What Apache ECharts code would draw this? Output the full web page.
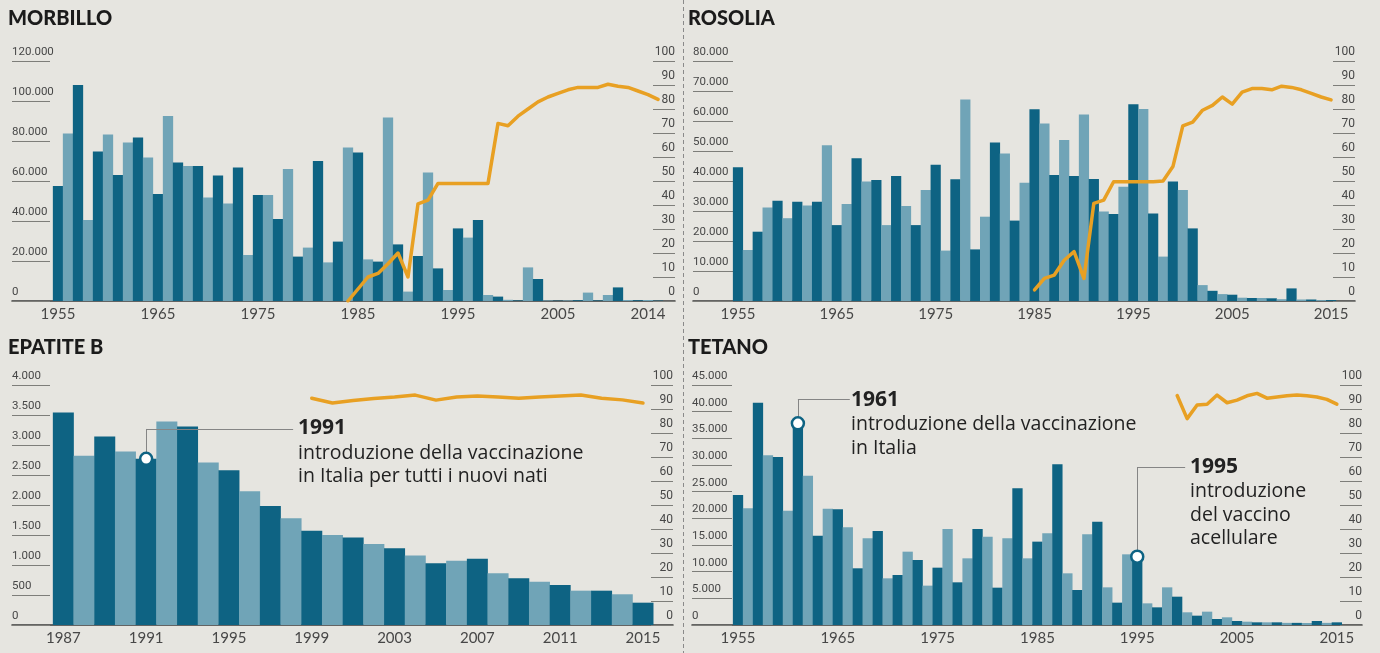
<!DOCTYPE html>
<html>
<head>
<meta charset="utf-8">
<script src="https://cdn.jsdelivr.net/npm/echarts@6/dist/echarts.min.js"></script>
<style>
  html, body { margin: 0; padding: 0; background: #e6e5e0; }
  #chart { width: 1380px; height: 653px; }
</style>
</head>
<body>
<div id="chart"></div>
<script>
// casi notificati per anno (barre) e copertura vaccinale % (linea arancione)
const morbilloStart = 1955;
const morbilloCasi = [57500, 83800, 108000, 40500, 74700, 83300, 63000, 79200, 81700, 71700,
  53500, 92500, 69300, 67500, 67500, 51800, 62700, 48800, 66800, 23000,
  53000, 53000, 41000, 66000, 22200, 26700, 70000, 19300, 29700, 76700,
  74300, 20800, 19700, 91800, 28300, 4700, 22500, 64200, 16300, 5500,
  36300, 31700, 40500, 3000, 2200, 600, 300, 16800, 11000, 300,
  200, 300, 400, 4200, 300, 3000, 6800, 500, 400, 500, 200];
const morbilloCopStart = 1984;
const morbilloCopertura = [0, 5, 10, 11.5, 15.5, 20, 10, 40.5, 42, 49, 49, 49, 49, 49, 49,
  74, 73, 77, 80, 83, 85, 86.5, 88, 89, 89, 89, 90.3, 89.5, 89, 87.5, 86, 84];
const morbilloTicks = [1955, 1965, 1975, 1985, 1995, 2005, 2014];

const rosoliaStart = 1955;
const rosoliaCasi = [44600, 17000, 23100, 31200, 33400, 27600, 33100, 31800, 33100, 51900,
  25300, 32300, 47600, 39800, 40300, 25300, 41700, 31700, 25300, 37000,
  45400, 16800, 40600, 67200, 17200, 28100, 52800, 49200, 26800, 39400,
  63900, 59200, 42000, 53700, 41700, 62200, 40700, 29800, 29000, 38100,
  65600, 64000, 29200, 14800, 39800, 37000, 24200, 5300, 3400, 2300,
  2100, 1100, 1000, 1000, 900, 600, 4200, 500, 500, 300, 300];
const rosoliaCopStart = 1985;
const rosoliaCopertura = [4.6, 9.4, 10.8, 17, 20.6, 9.4, 40.7, 42, 49.7, 49.7, 49.7, 49.7, 49.7,
  50, 56, 73, 74.5, 79.5, 81.5, 85, 82, 87, 88.5, 88.5, 88, 89.5, 89, 88, 86.5, 85, 83.8];
const rosoliaTicks = [1955, 1965, 1975, 1985, 1995, 2005, 2015];

const epatiteStart = 1987;
const epatiteCasi = [3540, 2820, 3140, 2890, 2770, 3390, 3310, 2710, 2580, 2230,
  1985, 1780, 1570, 1500, 1460, 1350, 1280, 1160, 1030, 1070,
  1105, 862, 778, 722, 667, 572, 572, 512, 372];
const epatiteCopStart = 1999;
const epatiteCopertura = [94.5, 92.5, 93.5, 94.4, 95, 95.8, 93.7, 95, 95.4, 95, 94.5,
  95, 95.4, 95.8, 94.5, 93.8, 92.5];
const epatiteTicks = [1987, 1991, 1995, 1999, 2003, 2007, 2011, 2015];

const tetanoStart = 1955;
const tetanoCasi = [24380, 21880, 41690, 31810, 31500, 21440, 37810, 28000, 16750, 21810,
  21690, 18310, 10630, 16250, 17630, 8750, 9380, 13750, 12190, 7380,
  10750, 18000, 8000, 12500, 18000, 16560, 7000, 16250, 25630, 12500,
  15630, 17190, 30130, 9690, 6560, 17000, 19380, 7060, 4190, 13250,
  12810, 4060, 3310, 7060, 5310, 2380, 1750, 2500, 1130, 1440,
  750, 620, 500, 500, 500, 400, 400, 380, 750, 400, 500];
const tetanoCopStart = 1999;
const tetanoCopertura = [95.6, 86, 91.7, 92, 95.8, 92.6, 93.7, 95.5, 96.5, 94.5, 95,
  95.5, 95.8, 95.5, 95, 94, 92];
const tetanoTicks = [1955, 1965, 1975, 1985, 1995, 2005, 2015];

const BG = '#e6e5e0';
const DARK = '#0e6383';
const LIGHT = '#70a4b7';
const ORANGE = '#e8a023';
const TICK = '#7e7e7a';
const LABEL = '#474747';

const chart = echarts.init(document.getElementById('chart'));

function fmtMigliaia(v) {
  return String(v).replace(/\B(?=(\d{3})+(?!\d))/g, '.');
}

const grids = [
  { left: 12, top: 61, width: 663, height: 240 },
  { left: 693, top: 61, width: 662, height: 240 },
  { left: 12, top: 385, width: 661, height: 240 },
  { left: 692, top: 385, width: 670, height: 240 }
];
const xRanges = [[1950.4, 2016.7], [1950.45, 2017.42], [1984.52, 2016.45], [1950.39, 2017.52]];
const xTicks = [morbilloTicks, rosoliaTicks, epatiteTicks, tetanoTicks];
const yMax = [120000, 80000, 4000, 45000];
const yStep = [20000, 10000, 500, 5000];
const leftTickLen = [38, 40, 38, 40];
const barW = [10.3, 10.2, 21, 10.3];

const xAxis = grids.map((g, i) => ({
  type: 'value', gridIndex: i, min: xRanges[i][0], max: xRanges[i][1],
  axisLine: { show: true, onZero: false, lineStyle: { color: '#3a3a3a', width: 1.5 } },
  axisTick: { show: false },
  splitLine: { show: false },
  axisLabel: {
    customValues: xTicks[i], formatter: v => String(v),
    color: LABEL, fontSize: 15, fontFamily: 'Lato', margin: 6
  }
}));

const yAxis = [];
grids.forEach((g, i) => {
  yAxis.push({
    type: 'value', gridIndex: i, position: 'left', min: 0, max: yMax[i], interval: yStep[i],
    axisLine: { show: false },
    axisTick: { show: true, inside: true, length: leftTickLen[i], lineStyle: { color: TICK, width: 1 } },
    splitLine: { show: false },
    axisLabel: {
      inside: true, margin: 0, verticalAlign: 'bottom', padding: [0, 0, 3, 0],
      showMinLabel: true, showMaxLabel: true,
      color: LABEL, fontSize: 11.5, fontFamily: 'Roboto', formatter: fmtMigliaia
    }
  });
  yAxis.push({
    type: 'value', gridIndex: i, position: 'right', min: 0, max: 100, interval: 10,
    axisLine: { show: false },
    axisTick: { show: true, inside: true, length: 22, lineStyle: { color: TICK, width: 1 } },
    splitLine: { show: false },
    axisLabel: {
      inside: true, margin: 0, verticalAlign: 'bottom', padding: [0, 0, 3, 0],
      showMinLabel: true, showMaxLabel: true,
      color: LABEL, fontSize: 12, fontFamily: 'Roboto'
    }
  });
});

const barSets = [
  [morbilloCasi, morbilloStart], [rosoliaCasi, rosoliaStart],
  [epatiteCasi, epatiteStart], [tetanoCasi, tetanoStart]
];
const lineSets = [
  [morbilloCopertura, morbilloCopStart], [rosoliaCopertura, rosoliaCopStart],
  [epatiteCopertura, epatiteCopStart], [tetanoCopertura, tetanoCopStart]
];

// annotazioni: anno, livello (asse sx) del tratto orizzontale, anno di fine del tratto
const note = {
  2: [[1991, 3267, 1998.1]],
  3: [[1961, 42375, 1966.2], [1995, 29625, 1999.8]]
};

const series = [];
barSets.forEach(([vals, start], i) => {
  const s = {
    type: 'bar', xAxisIndex: i, yAxisIndex: i * 2,
    barWidth: barW[i],
    data: vals.map((v, k) => [start + k, v]),
    itemStyle: { color: p => (p.dataIndex % 2 ? LIGHT : DARK) },
    silent: true
  };
  if (note[i]) {
    s.markLine = {
      silent: true, symbol: ['none', 'none'], z: 3,
      label: { show: false },
      lineStyle: { color: '#858585', width: 1, type: 'solid' },
      data: note[i].flatMap(([yr, lvl, end]) => [
        [{ coord: [yr, vals[yr - start]] }, { coord: [yr, lvl] }],
        [{ coord: [yr, lvl] }, { coord: [end, lvl] }]
      ])
    };
    s.markPoint = {
      silent: true, symbol: 'circle', symbolSize: 12, z: 6,
      label: { show: false },
      itemStyle: { color: '#fff', borderColor: DARK, borderWidth: 2.5 },
      data: note[i].map(([yr]) => ({ coord: [yr, vals[yr - start]] }))
    };
  }
  series.push(s);
});
lineSets.forEach(([vals, start], i) => {
  series.push({
    type: 'line', xAxisIndex: i, yAxisIndex: i * 2 + 1,
    data: vals.map((v, k) => [start + k, v]),
    showSymbol: false, symbol: 'none', silent: true, z: 5,
    lineStyle: { color: ORANGE, width: 3.5, join: 'round', cap: 'round' }
  });
});

const titleStyle = { color: '#1b1b1b', fontSize: 20, fontWeight: 900, fontFamily: 'Lato' };
const titles = [
  { text: 'MORBILLO', left: 8, top: 9 },
  { text: 'ROSOLIA', left: 688, top: 9 },
  { text: 'EPATITE B', left: 8, top: 338 },
  { text: 'TETANO', left: 688, top: 338 }
].map(t => Object.assign(t, { padding: 0, textStyle: titleStyle }));

function testo(x, y, text, bold) {
  return {
    type: 'text', x: x, y: y, silent: true,
    style: {
      text: text, fill: '#222', verticalAlign: 'middle',
      font: (bold ? 'bold 21px' : '19.5px') + ' "Open Sans"'
    }
  };
}

const graphic = [
  { type: 'line', silent: true, shape: { x1: 683.5, y1: 0, x2: 683.5, y2: 653 },
    style: { stroke: '#8a8a8a', lineWidth: 1, lineDash: [4, 3] } },
  testo(298, 428, '1991', true),
  testo(298, 453, 'introduzione della vaccinazione'),
  testo(298, 476, 'in Italia per tutti i nuovi nati'),
  testo(851, 400, '1961', true),
  testo(851, 424, 'introduzione della vaccinazione'),
  testo(851, 448, 'in Italia'),
  testo(1190, 467, '1995', true),
  testo(1190, 491, 'introduzione'),
  testo(1190, 515, 'del vaccino'),
  testo(1190, 538, 'acellulare')
];

chart.setOption({
  backgroundColor: BG,
  animation: false,
  title: titles,
  grid: grids.map(g => Object.assign({ containLabel: false, outerBoundsMode: 'none' }, g)),
  xAxis: xAxis,
  yAxis: yAxis,
  series: series,
  graphic: graphic
});
</script>
</body>
</html>
